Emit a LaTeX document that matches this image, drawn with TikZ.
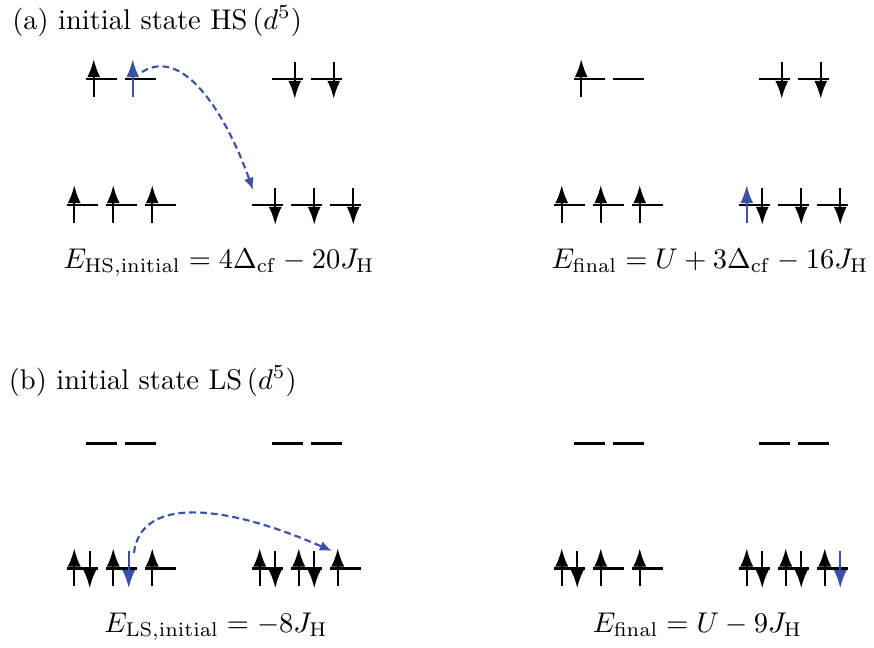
\documentclass[tikz,border=0pt]{standalone}
\usetikzlibrary{arrows.meta,calc}
\definecolor{hopblue}{RGB}{60,80,170}
\tikzset{
  level/.style={line width=0.85pt},
  spin/.style={line width=0.85pt,-{Latex[length=6.4pt,width=4.6pt]}},
  hop/.style={hopblue,line width=0.75pt,dash pattern=on 2.4pt off 1.4pt,-{Latex[length=4.3pt,width=3.5pt]}},
  lab/.style={inner sep=0pt}
}
\newcommand{\lvl}[3]{\coordinate (#1) at (#2,#3);
  \draw[level] ($(#1)+(-15.5,0)$) -- ($(#1)+(15.5,0)$);}
\newcommand{\eggroup}[3]{\lvl{#1a}{#2-19.5}{#3}\lvl{#1b}{#2+19.5}{#3}}
\newcommand{\ttgroup}[3]{\lvl{#1a}{#2-39}{#3}\lvl{#1b}{#2}{#3}\lvl{#1c}{#2+39}{#3}}
\newcommand{\spinup}[2][black]{\draw[spin,#1] ($(#2)+(-7.75,18)$) -- ($(#2)+(-7.75,-20)$);}
\newcommand{\spindn}[2][black]{\draw[spin,#1] ($(#2)+(7.75,-17)$) -- ($(#2)+(7.75,20)$);}
\begin{document}
\begin{tikzpicture}[x=0.3509pt,y=-0.3509pt]
\useasboundingbox (0,0) rectangle (874,648);

% ---------- (a) ----------
\node[lab,anchor=base west] (ta) at (11.7,29.3) {(a) initial state HS\,($d^5$)};
\eggroup{aAe}{121}{79}   \ttgroup{aAt}{121}{205}
\eggroup{aBe}{306.5}{79} \ttgroup{aBt}{306.5}{205}
\eggroup{aCe}{608.5}{79} \ttgroup{aCt}{608.5}{205}
\eggroup{aDe}{793.5}{79} \ttgroup{aDt}{793.5}{205}

\spinup{aAea} \spinup[hopblue]{aAeb}
\spinup{aAta} \spinup{aAtb} \spinup{aAtc}
\spindn{aBea} \spindn{aBeb}
\spindn{aBta} \spindn{aBtb} \spindn{aBtc}

\spinup{aCea}
\spinup{aCta} \spinup{aCtb} \spinup{aCtc}
\spindn{aDea} \spindn{aDeb}
\spinup[hopblue]{aDta} \spindn{aDta} \spindn{aDtb} \spindn{aDtc}

\coordinate (ha0) at ($(aAeb)+(1.5,-7)$);
\coordinate (ha1) at ($(aBta)+(-14.5,-15)$);
\draw[hop] (ha0) .. controls +(43,-27) and +(-25,-71) .. (ha1);

\node[lab,anchor=base] (ea) at (219,268) {$E_{\mathrm{HS,initial}} = 4\Delta_{\mathrm{cf}} - 20 J_{\mathrm{H}}$};
\node[lab,anchor=base] (fa) at (710,268) {$E_{\mathrm{final}} = U + 3\Delta_{\mathrm{cf}} - 16 J_{\mathrm{H}}$};

% ---------- (b) ----------
\node[lab,anchor=base west] (tb) at (8.3,389.3) {(b) initial state LS\,($d^5$)};
\eggroup{bAe}{121}{443.3}   \ttgroup{bAt}{121}{568.3}
\eggroup{bBe}{306.5}{443.3} \ttgroup{bBt}{306.5}{568.3}
\eggroup{bCe}{608.5}{443.3} \ttgroup{bCt}{608.5}{568.3}
\eggroup{bDe}{793.5}{443.3} \ttgroup{bDt}{793.5}{568.3}

\spinup{bAta} \spindn{bAta}
\spinup{bAtb} \spindn[hopblue]{bAtb}
\spinup{bAtc}
\spinup{bBta} \spindn{bBta}
\spinup{bBtb} \spindn{bBtb}
\spinup{bBtc}

\spinup{bCta} \spindn{bCta}
\spinup{bCtb}
\spinup{bCtc}
\spinup{bDta} \spindn{bDta}
\spinup{bDtb} \spindn{bDtb}
\spinup{bDtc} \spindn[hopblue]{bDtc}

\coordinate (hb0) at ($(bAtb)+(13,-15.3)$);
\coordinate (hb1) at ($(bBtc)+(-13.5,-17.3)$);
\draw[hop] (hb0) .. controls +(6,-53) and +(-117,-51) .. (hb1);

\node[lab,anchor=base] (eb) at (216,632.7) {$E_{\mathrm{LS,initial}} = -8 J_{\mathrm{H}}$};
\node[lab,anchor=base] (fb) at (697.5,632.7) {$E_{\mathrm{final}} = U - 9 J_{\mathrm{H}}$};
\end{tikzpicture}
\end{document}
